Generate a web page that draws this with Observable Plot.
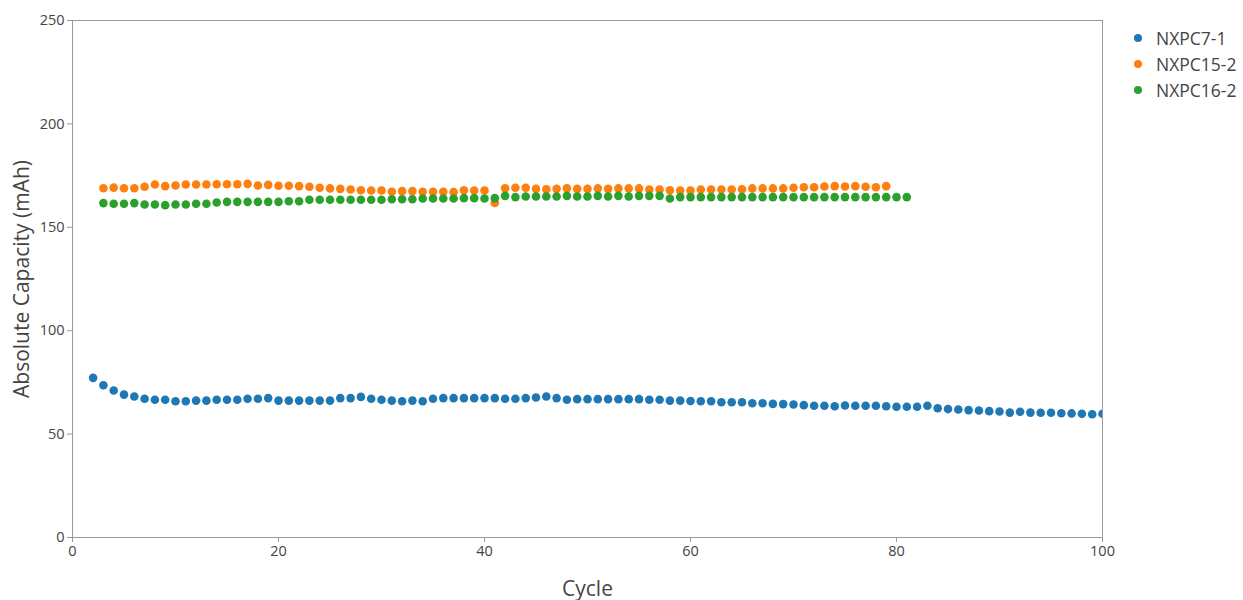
<!DOCTYPE html>
<html>
<head>
<meta charset="utf-8">
<script src="https://cdn.jsdelivr.net/npm/d3@7"></script>
<script src="https://cdn.jsdelivr.net/npm/@observablehq/plot@0.6"></script>
<style>
  html, body { margin: 0; padding: 0; background: #fff; }
  #wrap { position: relative; width: 1243px; height: 600px; font-family: "Open Sans", sans-serif; }
  #legend { position: absolute; left: 1130px; top: 25px; font-size: 17.5px; color: #444; }
  #legend .item { display: flex; align-items: center; height: 26px; }
  #legend .sw { width: 8px; height: 8px; border-radius: 50%; margin-right: 14px; margin-left: 4px; }
</style>
</head>
<body>
<div id="wrap"><div id="chart"></div><div id="legend"></div></div>
<script>
const seriesNames = ["NXPC7-1", "NXPC15-2", "NXPC16-2"];
const seriesColors = ["#1f77b4", "#ff7f0e", "#2ca02c"];

const cycles71 = d3.range(2, 101);
const cap71 = [77.2, 73.6, 71.1, 69.1, 68.2, 67.1, 66.6, 66.6, 65.9, 65.9,
  66.2, 66.2, 66.6, 66.6, 66.6, 67.1, 67.1, 67.4, 66.2, 66.2,
  66.2, 66.2, 66.2, 66.2, 67.4, 67.4, 68.0, 67.1, 66.6, 66.2,
  65.9, 66.2, 65.9, 67.1, 67.4, 67.4, 67.4, 67.4, 67.4, 67.4,
  67.1, 67.1, 67.4, 67.7, 68.2, 67.4, 66.6, 66.9, 66.9, 66.9,
  66.9, 66.9, 66.9, 66.9, 66.6, 66.6, 66.2, 66.2, 66.0, 65.9,
  65.9, 65.4, 65.4, 65.4, 64.9, 64.9, 64.6, 64.5, 64.3, 64.0,
  63.7, 63.7, 63.5, 63.8, 63.7, 63.7, 63.7, 63.5, 63.2, 63.2,
  63.2, 63.7, 62.5, 62.1, 61.9, 61.6, 61.4, 61.1, 60.9, 60.4,
  60.8, 60.4, 60.3, 60.3, 60.1, 60.0, 59.8, 59.6, 59.8];

const cycles152 = d3.range(3, 80);
const cap152 = [168.9, 169.2, 168.9, 168.9, 169.6, 170.7, 169.9, 170.2, 170.7, 170.7,
  170.7, 170.8, 170.8, 170.8, 171.0, 170.2, 170.5, 170.1, 170.1, 169.9,
  169.6, 169.1, 168.8, 168.6, 168.3, 167.9, 167.8, 167.8, 167.2, 167.5,
  167.5, 167.2, 167.2, 167.2, 167.0, 167.9, 167.8, 167.8, 161.8, 168.9,
  169.1, 169.1, 168.6, 168.4, 168.6, 168.9, 168.6, 168.6, 168.8, 168.6,
  168.8, 168.8, 168.8, 168.3, 168.3, 167.9, 167.8, 167.8, 168.3, 168.3,
  168.3, 168.3, 168.4, 168.8, 168.8, 168.8, 168.8, 169.1, 169.4, 169.4,
  169.7, 169.9, 169.7, 169.9, 169.6, 169.4, 169.9];

const cycles162 = d3.range(3, 82);
const cap162 = [161.7, 161.4, 161.4, 161.7, 161.0, 161.0, 160.7, 161.0, 161.0, 161.4,
  161.4, 162.0, 162.3, 162.3, 162.3, 162.3, 162.3, 162.3, 162.6, 162.6,
  163.3, 163.3, 163.3, 163.3, 163.3, 163.3, 163.3, 163.3, 163.6, 163.6,
  163.6, 163.9, 163.9, 163.9, 163.9, 164.1, 164.1, 163.9, 164.1, 165.2,
  164.6, 164.9, 164.9, 164.9, 164.9, 165.2, 164.9, 164.9, 165.2, 164.9,
  165.2, 164.9, 165.2, 165.2, 165.2, 163.9, 164.6, 164.6, 164.6, 164.6,
  164.6, 164.6, 164.6, 164.6, 164.6, 164.6, 164.6, 164.6, 164.6, 164.6,
  164.6, 164.6, 164.6, 164.6, 164.6, 164.6, 164.6, 164.6, 164.6];

const xTicks = [0, 20, 40, 60, 80, 100];
const yTicks = [0, 50, 100, 150, 200, 250];

const data = [
  ...cycles71.map((c, i) => ({series: seriesNames[0], cycle: c, cap: cap71[i]})),
  ...cycles152.map((c, i) => ({series: seriesNames[1], cycle: c, cap: cap152[i]})),
  ...cycles162.map((c, i) => ({series: seriesNames[2], cycle: c, cap: cap162[i]}))
];

const chart = Plot.plot({
  width: 1243,
  height: 600,
  marginLeft: 72,
  marginRight: 141,
  marginTop: 20,
  marginBottom: 63,
  style: {fontFamily: "Open Sans, sans-serif", fontSize: "14px", color: "#444", background: "#fff"},
  x: {domain: [0, 100]},
  y: {domain: [0, 250]},
  color: {domain: seriesNames, range: seriesColors},
  marks: [
    Plot.frame({stroke: "#999", strokeWidth: 1}),
    Plot.axisX({ticks: xTicks, tickSize: 5, tickPadding: 3, stroke: "#999", fill: "#444", fontSize: 14.5,
      label: "Cycle", labelAnchor: "center", labelArrow: "none", labelOffset: 58}),
    Plot.axisY({ticks: yTicks, tickSize: 5, tickPadding: 3, stroke: "#999", fill: "#444", fontSize: 14.5,
      label: "Absolute Capacity (mAh)", labelAnchor: "center", labelArrow: "none", labelOffset: 58}),
    Plot.dot(data, {x: "cycle", y: "cap", fill: "series", r: 4.3, stroke: "none", clip: "frame"})
  ]
});
chart.querySelectorAll("g[aria-label='x-axis label'] text, g[aria-label='y-axis label'] text").forEach(t => {
  t.setAttribute("font-size", "21");
  t.style.fontSize = "21px";
  t.setAttribute("fill", "#444");
});
document.getElementById("chart").appendChild(chart);

const legend = document.getElementById("legend");
seriesNames.forEach((name, i) => {
  const item = document.createElement("div");
  item.className = "item";
  const sw = document.createElement("span");
  sw.className = "sw";
  sw.style.background = seriesColors[i];
  const label = document.createElement("span");
  label.textContent = name;
  item.appendChild(sw);
  item.appendChild(label);
  legend.appendChild(item);
});
</script>
</body>
</html>
